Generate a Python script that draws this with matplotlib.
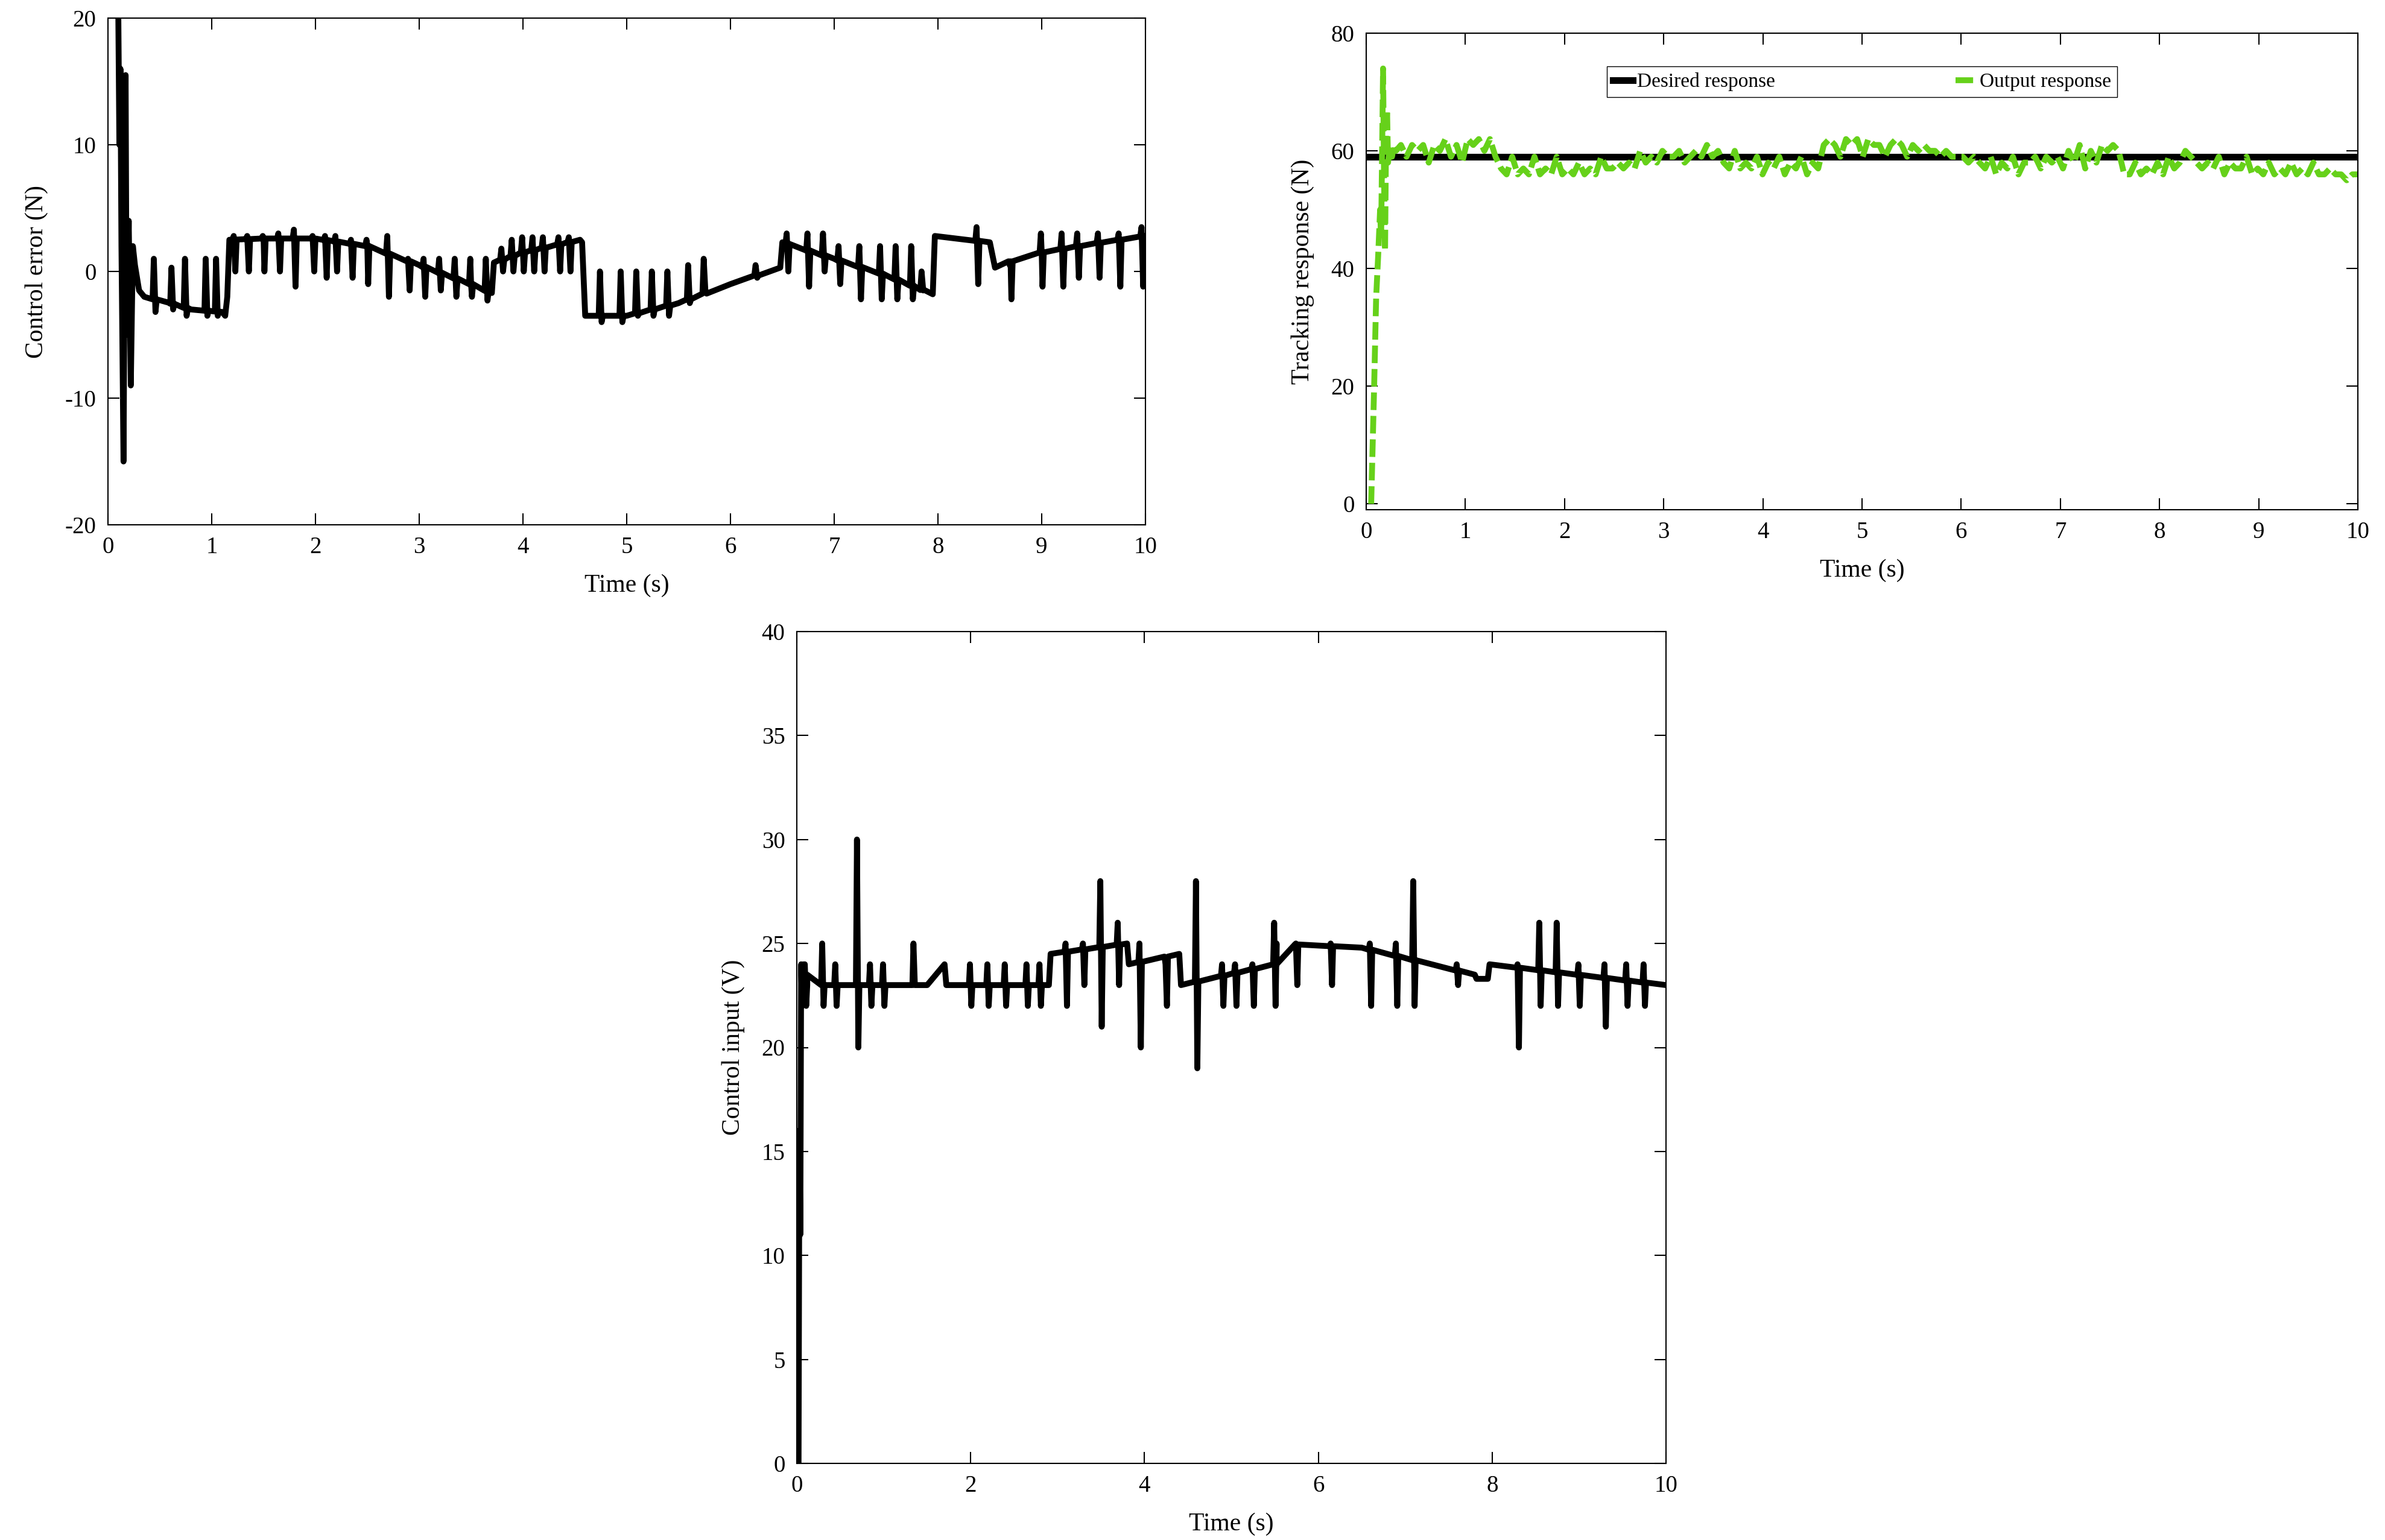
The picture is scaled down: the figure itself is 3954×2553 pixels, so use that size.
import matplotlib
matplotlib.use("Agg")
import matplotlib.pyplot as plt
import numpy as np

plt.rcParams["font.family"] = ["Liberation Serif", "DejaVu Serif"]
plt.rcParams["axes.unicode_minus"] = False

# ---- panel 1: control error ----
err_t = [0.10, 0.11, 0.12, 0.13, 0.15, 0.17, 0.18, 0.20, 0.22, 0.24, 0.26, 0.30, 0.35, 0.60, 0.80, 1.10, 1.13, 1.15, 1.17,
         1.50, 2.00, 2.50, 3.00, 3.50, 3.70, 3.72, 4.00, 4.55, 4.57, 4.60, 5.00, 5.50, 6.00, 6.48, 6.50,
         7.00, 7.50, 7.95, 7.97, 8.50, 8.55, 8.70, 9.00, 9.50, 10.0]
err_v = [20.0, 10.0, 16.0, 2.0, -15.0, 15.5, -5.0, 4.0, -9.0, 2.0, 0.5, -1.5, -2.0, -2.5, -3.0, -3.2, -3.5, -2.0, 2.5,
         2.6, 2.6, 2.0, 0.5, -1.0, -1.7, 0.7, 1.5, 2.5, 2.3, -3.5, -3.5, -2.5, -1.0, 0.3, 2.3,
         1.0, -0.3, -1.8, 2.8, 2.3, 0.3, 0.8, 1.5, 2.2, 2.8]
err_spk_t = [0.45, 0.62, 0.75, 0.95, 1.05, 1.22, 1.35, 1.50, 1.65, 1.80, 1.98, 2.10, 2.20, 2.35, 2.50, 2.70,
             2.90, 3.05, 3.20, 3.35, 3.50, 3.65, 3.80, 3.90, 4.00, 4.10, 4.20, 4.35, 4.45,
             4.75, 4.95, 5.10, 5.25, 5.40, 5.60, 5.75, 6.25, 6.55, 6.75, 6.90, 7.05, 7.25, 7.45, 7.60, 7.75, 7.85,
             8.38, 8.70, 9.00, 9.20, 9.35, 9.55, 9.75, 9.97]
err_spk_hi = [1.0, 0.3, 1.0, 1.0, 1.0, 2.8, 2.8, 2.8, 3.0, 3.3, 2.8, 2.8, 2.8, 2.5, 2.5, 2.8,
              1.0, 1.0, 1.0, 1.0, 1.0, 1.0, 1.8, 2.5, 2.7, 2.7, 2.7, 2.7, 2.7,
              0.0, 0.0, 0.0, 0.0, 0.0, 0.5, 1.0, 0.5, 3.0, 3.0, 3.0, 2.0, 2.0, 2.0, 2.0, 2.0, 0.0,
              3.5, 0.5, 3.0, 3.0, 3.0, 3.0, 3.0, 3.5]
err_spk_lo = [-3.2, -3.0, -3.5, -3.5, -3.5, 0.0, 0.0, 0.0, 0.0, -1.2, 0.0, -0.5, 0.0, -0.5, -1.0, -2.0,
              -1.5, -2.0, -1.5, -2.0, -2.0, -2.3, 0.0, 0.0, 0.0, 0.0, 0.0, 0.0, 0.0,
              -4.0, -4.0, -3.5, -3.5, -3.5, -2.5, -1.5, -0.5, 0.0, -1.2, 0.0, -1.0, -2.2, -2.2, -2.2, -2.2, -1.5,
              -1.0, -2.2, -1.2, -1.2, -0.5, -0.5, -1.2, -1.2]

# ---- panel 2: tracking response ----
desired_val = 59.0
out_t = [0.05, 0.08, 0.10, 0.12, 0.14, 0.15, 0.16, 0.17, 0.18, 0.19, 0.20, 0.21, 0.22, 0.24, 0.26, 0.28, 0.30]
out_v = [0.0, 20.0, 35.0, 42.0, 50.0, 45.0, 60.0, 74.0, 55.0, 43.0, 62.0, 67.0, 58.0, 61.0, 59.0, 61.0, 60.0]
# after the transient, samples are evenly spread from 0.35 s to 10 s
out_v2 = [61, 59, 61, 60, 61, 58, 61, 60, 62, 59, 61, 58, 62, 61, 62, 60, 62, 59, 57, 56,
          59, 56, 57, 56, 59, 56, 57, 56, 59, 56, 57, 56, 58, 56, 57, 56, 59, 57, 57, 58,
          57, 58, 57, 60, 58, 59, 58, 60, 59, 59, 60, 58, 59, 60, 59, 61, 59, 60, 58, 57,
          60, 57, 58, 57, 59, 56, 58, 57, 59, 56, 58, 57, 59, 56, 58, 57, 61, 62, 61, 59,
          62, 61, 62, 59, 62, 61, 61, 59, 61, 62, 61, 59, 61, 60, 61, 60, 60, 59, 60, 59,
          59, 59, 58, 59, 58, 57, 59, 56, 58, 57, 59, 56, 58, 58, 59, 57, 59, 58, 59, 57,
          60, 58, 61, 57, 60, 58, 61, 60, 61, 60, 56, 56, 58, 56, 57, 56, 58, 56, 59, 57,
          58, 60, 59, 58, 57, 58, 57, 59, 56, 58, 57, 57, 59, 56, 57, 56, 58, 56, 57, 56,
          58, 56, 57, 56, 58, 56, 56, 57, 56, 56, 55, 56, 56]
out_t2 = np.linspace(0.35, 10.0, len(out_v2))

# ---- panel 3: control input ----
inp_t = [0.00, 0.02, 0.03, 0.04, 0.05, 0.06, 0.08, 0.12, 1.50, 1.70, 1.72, 2.90, 2.92, 3.80, 3.82, 4.40, 4.42,
         5.50, 5.52, 6.50, 7.80, 7.82, 7.95, 7.97, 10.0]
inp_v = [0.0, 0.0, 16.0, 11.0, 24.0, 22.0, 24.0, 23.0, 23.0, 24.0, 23.0, 23.0, 24.5, 25.0, 24.0, 24.5, 23.0,
         24.0, 25.0, 24.8, 23.5, 23.3, 23.3, 24.0, 23.0]
inp_spk_t = [0.10, 0.30, 0.45, 0.70, 0.85, 1.00, 1.35, 2.00, 2.20, 2.40, 2.65, 2.80, 3.10, 3.30, 3.50, 3.70,
             3.95, 4.25, 4.60, 4.90, 5.05, 5.25, 5.50, 5.75, 6.15, 6.60, 6.90, 7.10, 7.60, 8.30, 8.55,
             8.75, 9.00, 9.30, 9.55, 9.75]
inp_spk_hi = [24, 25, 24, 30, 24, 24, 25, 24, 24, 24, 24, 24, 25, 25, 28, 26,
              25, 24, 28, 24, 24, 24, 26, 25, 25, 25, 25, 28, 24, 24, 26,
              26, 24, 24, 24, 24]
inp_spk_lo = [22, 22, 22, 20, 22, 22, 23, 22, 22, 22, 22, 22, 22, 23, 21, 23,
              20, 22, 19, 22, 22, 22, 22, 23, 23, 22, 22, 22, 23, 20, 22,
              22, 22, 21, 22, 22]


def with_spikes(bt, bv, st, hi, lo):
    pts = list(zip(bt, bv))
    for t, h, l in zip(st, hi, lo):
        b = np.interp(t, bt, bv)
        pts += [(t - 0.02, b), (t - 0.008, h), (t + 0.008, l), (t + 0.02, b)]
    pts.sort(key=lambda p: p[0])
    return [p[0] for p in pts], [p[1] for p in pts]


def style(ax, xl, yl):
    ax.set_xlabel(xl, fontsize=30, labelpad=18)
    ax.set_ylabel(yl, fontsize=30, labelpad=20)
    ax.tick_params(direction="in", length=14, width=1.5, labelsize=28, top=True, right=True, pad=14)
    for s in ax.spines.values():
        s.set_linewidth(1.5)


fig = plt.figure(figsize=(39.55, 25.53), dpi=100)

ax1 = fig.add_axes([179 / 3955, 1 - 870 / 2553, 1720 / 3955, 840 / 2553])
x, y = with_spikes(err_t, err_v, err_spk_t, err_spk_hi, err_spk_lo)
ax1.plot(x, y, color="black", lw=7)
ax1.set_xlim(0, 10)
ax1.set_ylim(-20, 20)
ax1.set_xticks(range(0, 11))
ax1.set_yticks([-20, -10, 0, 10, 20])
style(ax1, "Time (s)", "Control error (N)")

ax2 = fig.add_axes([2265 / 3955, 1 - 845 / 2553, 1644 / 3955, 790 / 2553])
ax2.plot([0, 10], [desired_val, desired_val], color="black", lw=8, label="Desired response")
ax2.plot(list(out_t) + list(out_t2), out_v + out_v2, color="#66d11a", lw=7, ls=(0, (3, 1)),
         label="Output response")
ax2.set_xlim(0, 10)
ax2.set_ylim(-1, 80)
ax2.set_xticks(range(0, 11))
ax2.set_yticks([0, 20, 40, 60, 80])
style(ax2, "Time (s)", "Tracking response (N)")
ax2.legend(loc="upper center", bbox_to_anchor=(0.5, 0.93), ncol=2, fontsize=24, frameon=True,
           fancybox=False, edgecolor="black", handlelength=1.0, handletextpad=0.2,
           columnspacing=9, borderpad=0.3, borderaxespad=0, framealpha=1)

ax3 = fig.add_axes([1321 / 3955, 1 - 2426 / 2553, 1441 / 3955, 1379 / 2553])
x, y = with_spikes(inp_t, inp_v, inp_spk_t, inp_spk_hi, inp_spk_lo)
ax3.plot(x, y, color="black", lw=7)
ax3.set_xlim(0, 10)
ax3.set_ylim(0, 40)
ax3.set_xticks(range(0, 11, 2))
ax3.set_yticks(range(0, 41, 5))
style(ax3, "Time (s)", "Control input (V)")

fig.savefig("out.png", dpi=100)
